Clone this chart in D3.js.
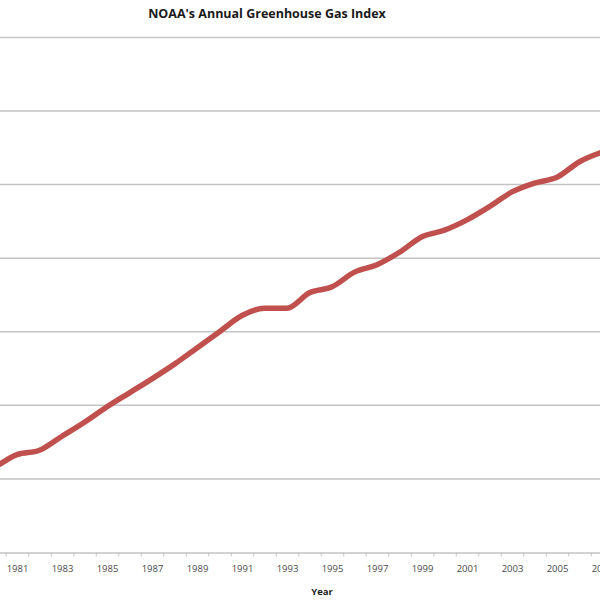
<!DOCTYPE html>
<html>
<head>
<meta charset="utf-8">
<script src="https://cdn.jsdelivr.net/npm/d3@7"></script>
<style>
  html, body { margin: 0; padding: 0; background: #fff; overflow: hidden; }
  svg { display: block; }
</style>
</head>
<body>
<svg id="chart" width="600" height="600"></svg>
<script>
// ---- data ----
const years = [1979, 1980, 1981, 1982, 1983, 1984, 1985, 1986, 1987, 1988, 1989, 1990,
               1991, 1992, 1993, 1994, 1995, 1996, 1997, 1998, 1999, 2000, 2001, 2002,
               2003, 2004, 2005, 2006, 2007];
const aggi = [0.801, 0.816, 0.833, 0.839, 0.858, 0.877, 0.898, 0.917, 0.936, 0.956, 0.978, 1.000,
              1.022, 1.032, 1.032, 1.053, 1.061, 1.081, 1.091, 1.108, 1.129, 1.138, 1.152, 1.170,
              1.190, 1.202, 1.210, 1.231, 1.244];
const yTicks = [0.7, 0.8, 0.9, 1.0, 1.1, 1.2, 1.3, 1.4];
const xLabelYears = [1981, 1983, 1985, 1987, 1989, 1991, 1993, 1995, 1997, 1999, 2001, 2003, 2005, 2007];
const titleText = "NOAA's Annual Greenhouse Gas Index";
const xTitle = "Year";

const data = years.map((y, i) => ({ year: y, value: aggi[i] }));

const svg = d3.select("#chart");

const x = d3.scaleLinear().domain([1981, 2005]).range([17, 557]);
const y = d3.scaleLinear().domain([0.7, 1.4]).range([552.5, 37.4]);

// gridlines
svg.append("g")
  .selectAll("line")
  .data(yTicks.slice(1))
  .join("line")
  .attr("x1", 0).attr("x2", 600)
  .attr("y1", d => y(d)).attr("y2", d => y(d))
  .attr("stroke", "#c4c4c4")
  .attr("stroke-width", 1.5);

// x axis: tick marks at category boundaries
const boundaries = d3.range(1978, 2009).map(v => v + 0.5);
const axisG = svg.append("g").attr("transform", `translate(0,${y(0.7)})`);
axisG.call(d3.axisBottom(x).tickValues(boundaries).tickSize(4).tickFormat(""));
axisG.select(".domain").attr("stroke", "#c4c4c4").attr("stroke-width", 1.5)
  .attr("d", "M-10,0.5H610");
axisG.selectAll(".tick line").attr("stroke", "#c4c4c4").attr("stroke-width", 1);

// x labels
const labelG = svg.append("g").attr("transform", `translate(0,${y(0.7)})`);
labelG.call(d3.axisBottom(x).tickValues(xLabelYears).tickSize(0).tickPadding(13).tickFormat(d3.format("d")));
labelG.select(".domain").remove();
labelG.selectAll("text")
  .attr("font-family", "'Open Sans', 'Liberation Sans', sans-serif")
  .attr("font-size", 9.5)
  .attr("fill", "#4a4a4a");

// line
const line = d3.line()
  .x(d => x(d.year))
  .y(d => y(d.value))
  .curve(d3.curveMonotoneX);

svg.append("path")
  .datum(data)
  .attr("d", line)
  .attr("fill", "none")
  .attr("stroke", "#c0504d")
  .attr("stroke-width", 5.5)
  .attr("stroke-linejoin", "round");

// title
svg.append("text")
  .attr("x", 267).attr("y", 18)
  .attr("text-anchor", "middle")
  .attr("font-family", "'Open Sans', 'Liberation Sans', sans-serif")
  .attr("font-weight", "bold")
  .attr("font-size", 12.5)
  .attr("fill", "#1a1a1a")
  .text(titleText);

// x title
svg.append("text")
  .attr("x", 322).attr("y", 595)
  .attr("text-anchor", "middle")
  .attr("font-family", "'Open Sans', 'Liberation Sans', sans-serif")
  .attr("font-weight", "bold")
  .attr("font-size", 9.5)
  .attr("fill", "#1a1a1a")
  .text(xTitle);
</script>
</body>
</html>
